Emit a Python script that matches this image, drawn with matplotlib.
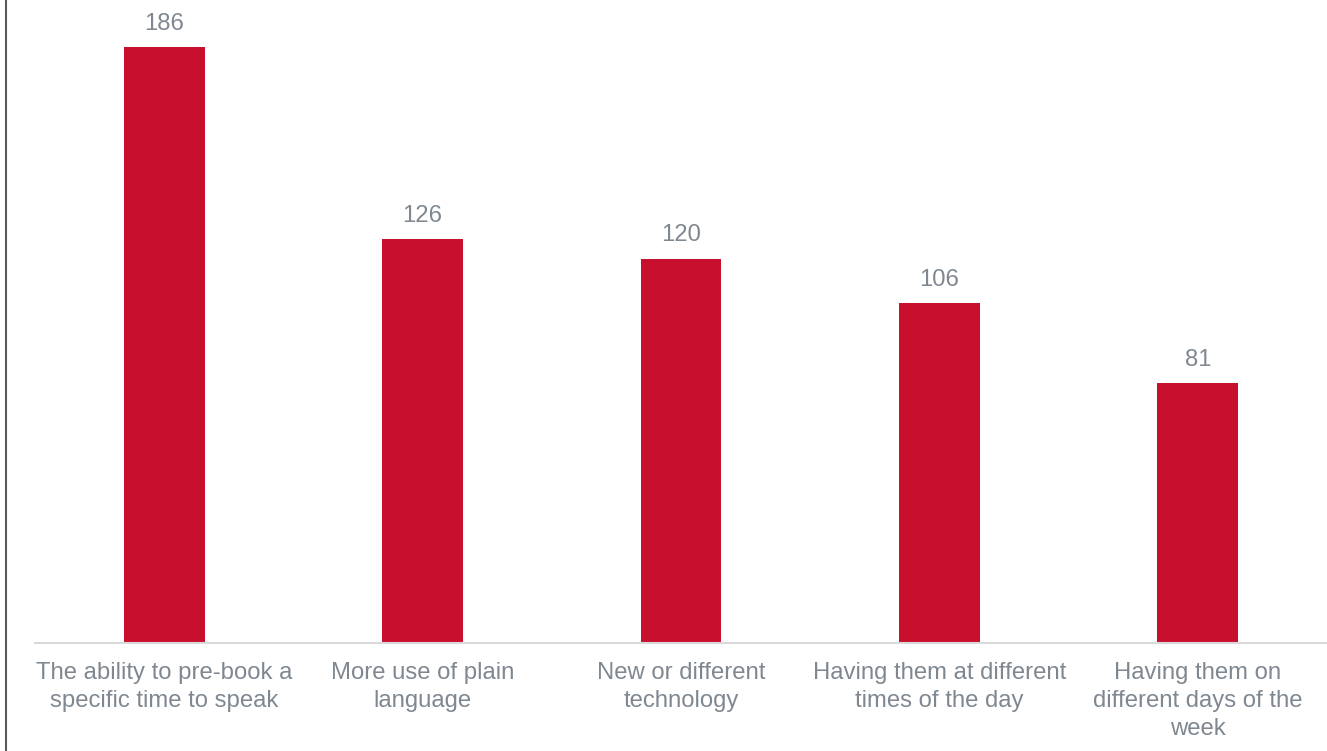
import matplotlib
matplotlib.use("Agg")
import matplotlib.pyplot as plt
from matplotlib.lines import Line2D

categories = [
    "The ability to pre-book a\nspecific time to speak",
    "More use of plain\nlanguage",
    "New or different\ntechnology",
    "Having them at different\ntimes of the day",
    "Having them on\ndifferent days of the\nweek",
]
values = [186, 126, 120, 106, 81]

bar_color = "#C8102E"
text_color = "#7F8891"

plt.rcParams["font.family"] = ["Liberation Sans", "DejaVu Sans"]

W, H = 1327, 751
fig = plt.figure(figsize=(W / 100, H / 100), dpi=100)
ax = fig.add_axes([35 / W, (H - 643) / H, 1 - 35 / W, 643 / H])

x = list(range(len(categories)))
bars = ax.bar(x, values, width=0.313, color=bar_color, zorder=2)
ax.set_xlim(-0.5, len(categories) - 0.5)
ax.set_ylim(0, 643 / 3.204)

for b, v in zip(bars, values):
    ax.annotate(str(v), (b.get_x() + b.get_width() / 2, v), xytext=(0, 9),
                textcoords="offset points", ha="center", va="bottom",
                fontsize=17.2, color=text_color)

ax.set_xticks(x)
ax.set_xticklabels(categories, fontsize=17.2, color=text_color, linespacing=1.35)
ax.tick_params(axis="x", length=0, pad=14)
ax.set_yticks([])
for s in ["top", "right", "left"]:
    ax.spines[s].set_visible(False)
ax.spines["bottom"].set_color("#D9D9D9")
ax.spines["bottom"].set_linewidth(1.5)

fig.add_artist(Line2D([5.5 / W, 5.5 / W], [0, 1], transform=fig.transFigure,
                      color="#595959", linewidth=1.5))

fig.savefig("out.png", dpi=100)
